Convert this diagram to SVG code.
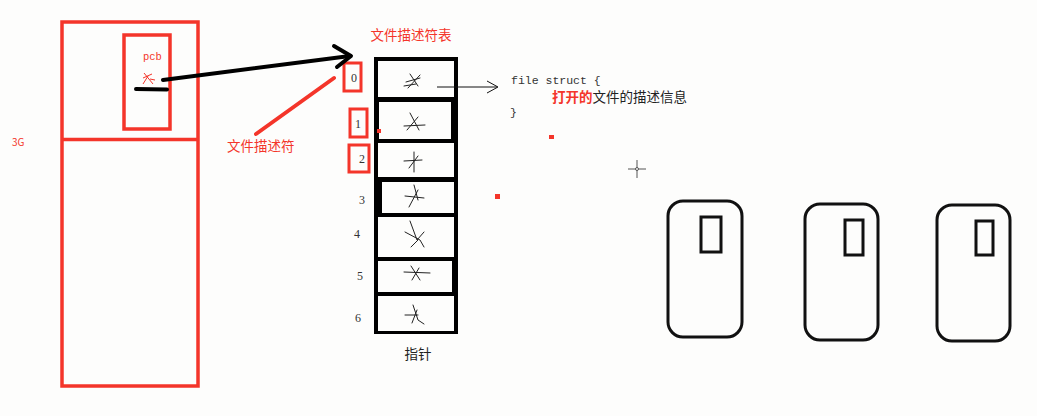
<svg xmlns="http://www.w3.org/2000/svg" width="1037" height="416" viewBox="0 0 1037 416">
<style>
.red{fill:none;stroke:#f4352a;stroke-width:3.5}
.rbox{fill:none;stroke:#f4352a;stroke-width:3}
.rt{fill:#f4352a;font-family:"Noto Sans CJK SC","Liberation Sans",sans-serif}
.cell{fill:#fdfdfc}
.scr{fill:none;stroke:#222;stroke-width:1;stroke-linecap:round}
.num{fill:#333;font-family:"Liberation Serif",serif;font-size:12px;text-anchor:middle}
.phone{fill:none;stroke:#111;stroke-width:3}
.mono{fill:#333;font-family:"Liberation Mono",monospace;font-size:11.5px}
.cjk{font-family:"Noto Sans CJK SC","Liberation Sans",sans-serif;font-size:13.5px}
</style>
<rect width="1037" height="416" fill="#fdfdfc"/>

<g id="memory">
<rect class="red" x="62" y="22" width="136" height="364"/>
<line class="red" x1="62" y1="139.5" x2="198" y2="139.5"/>
<text class="rt" x="12" y="146" font-family="Liberation Sans,sans-serif" font-size="10">3G</text>
</g>

<g id="pcb">
<rect class="red" x="124" y="35" width="46" height="94"/>
<text x="143" y="60" fill="#f4352a" font-family="Liberation Mono,monospace" font-size="10.5">pcb</text>
<path d="M143 78 L152 74 M144 73 L153 84 M148 76 L143 84 M150 79 L155 80" fill="none" stroke="#f4352a" stroke-width="1"/>
<line x1="136" y1="89" x2="167" y2="89.5" stroke="#000" stroke-width="4" stroke-linecap="round"/>
</g>

<g id="fd-label">
<text class="rt" x="227" y="151" font-size="13.5">文件描述符</text>
</g>

<g id="table">
<text class="rt" x="411" y="40" font-size="13.5" text-anchor="middle">文件描述符表</text>
<rect x="374" y="57" width="84" height="277" fill="#000"/>
<rect class="cell" x="378" y="61" width="76" height="36"/>
<rect class="cell" x="379" y="102" width="72" height="37"/>
<rect class="cell" x="378" y="143" width="76" height="34"/>
<rect class="cell" x="382" y="182" width="72" height="31"/>
<rect class="cell" x="378" y="217" width="76" height="40"/>
<rect class="cell" x="378" y="261" width="74" height="31"/>
<rect class="cell" x="378" y="296" width="76" height="35"/>
<path class="scr" d="M406 82 L420 78 M410 74 L418 86 M420 75 L408 88 M404 86 L416 84"/>
<path class="scr" d="M404 126 L425 125 M410 113 L419 130 M418 117 L407 130"/>
<path class="scr" d="M404 161 L422 160 M414 152 L414 172 M418 156 L409 168"/>
<path class="scr" d="M405 196 L424 198 M414 185 L418 200 M418 190 L409 207"/>
<path class="scr" d="M410 221 L417 240 L424 232 M405 232 L420 240 L424 247 M418 240 L411 247"/>
<path class="scr" d="M404 272 L430 273 M411 266 L420 280 M419 268 L412 280"/>
<path class="scr" d="M405 315 L418 315 M413 305 L418 320 L424 324 M417 310 L412 323"/>
<text x="418" y="359" fill="#222" font-family="Noto Sans CJK SC,sans-serif" font-size="13.5" text-anchor="middle">指针</text>
</g>

<g id="index">
<rect class="rbox" x="344" y="63" width="17" height="28"/>
<text class="num" x="354" y="82">0</text>
<rect class="rbox" x="350" y="109" width="17" height="28"/>
<text class="num" x="358" y="128">1</text>
<rect class="rbox" x="349" y="145" width="20" height="27"/>
<text class="num" x="362" y="163">2</text>
<text class="num" x="362" y="204">3</text>
<text class="num" x="357" y="238">4</text>
<text class="num" x="360" y="280">5</text>
<text class="num" x="358" y="322">6</text>
</g>

<g id="file-struct">
<text class="mono" x="511" y="84">file struct {</text>
<text class="cjk" x="552" y="102"><tspan fill="#f4352a" font-weight="bold">打开的</tspan><tspan fill="#222">文件的描述信息</tspan></text>
<text class="mono" x="510" y="116">}</text>
</g>

<g id="marks">
<rect x="377" y="129" width="4" height="4" fill="#f4352a"/>
<rect x="549" y="135" width="5" height="4" fill="#f4352a"/>
<rect x="495" y="194" width="5" height="5" fill="#f4352a"/>
<path d="M637 160 V178 M628 169 H646" stroke="#555" stroke-width="1"/>
<circle cx="637" cy="169" r="1.5" fill="#fdfdfc" stroke="#555" stroke-width="1"/>
</g>

<g id="phone1">
<rect class="phone" x="668" y="201" width="74" height="136" rx="15"/>
<rect class="phone" x="701" y="217" width="20" height="35"/>
</g>
<g id="phone2">
<rect class="phone" x="805" y="204" width="73" height="136" rx="15"/>
<rect class="phone" x="845" y="220" width="18" height="35"/>
</g>
<g id="phone3">
<rect class="phone" x="937" y="205" width="73" height="136" rx="15"/>
<rect class="phone" x="976" y="221" width="17" height="34"/>
</g>

<g id="connectors">
<path d="M163 80 L350 56" fill="none" stroke="#000" stroke-width="4" stroke-linecap="round"/>
<path d="M334 46 L351 56 L337 67" fill="none" stroke="#000" stroke-width="4" stroke-linecap="round" stroke-linejoin="round"/>
<path d="M334 78 L256 134" fill="none" stroke="#f4352a" stroke-width="4" stroke-linecap="round"/>
<path d="M437 87 L497 87" fill="none" stroke="#111" stroke-width="1"/>
<path d="M487 81 L498 87 L487 93" fill="none" stroke="#111" stroke-width="1"/>
</g>
</svg>
